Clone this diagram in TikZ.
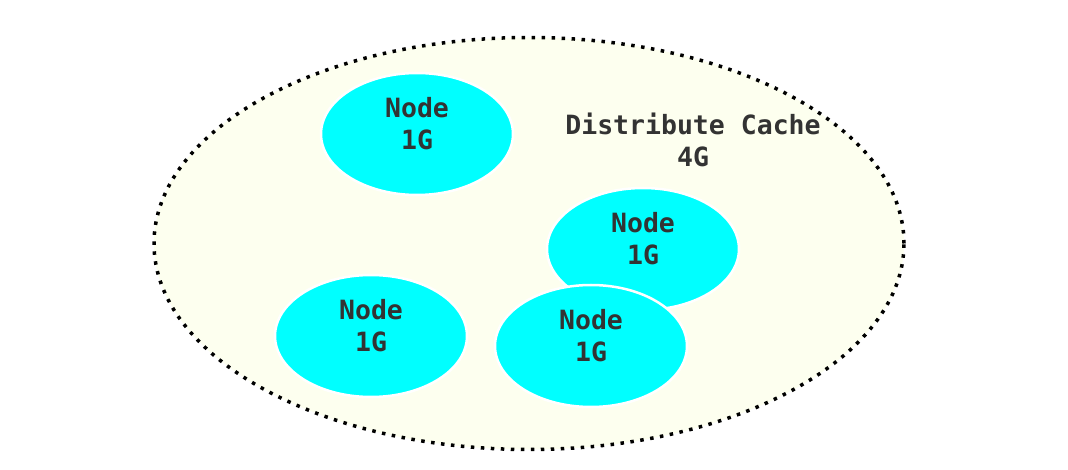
\documentclass[tikz,border=0pt]{standalone}
\usepackage{fontspec}
\setmonofont{DejaVu Sans Mono}
\usetikzlibrary{shapes.geometric}
\definecolor{ivory}{HTML}{FDFFEF}
\definecolor{txtgray}{HTML}{333333}
\definecolor{aqua}{RGB}{0,255,255}
\tikzset{
  cache/.style={ellipse, draw=black, fill=ivory, line width=3.5pt, dash pattern=on 3.5pt off 6.5pt, minimum width=750pt, minimum height=412pt, inner sep=0pt},
  cnode/.style={ellipse, draw=white, fill=aqua, line width=2.5pt, minimum width=192pt, minimum height=122pt, inner sep=0pt},
  ctext/.style={font=\ttfamily\bfseries\fontsize{26.5}{32}\selectfont, text=txtgray, align=center, inner sep=0pt},
}
\begin{document}
\begin{tikzpicture}[x=1pt,y=-1pt]
\useasboundingbox (0,0) rectangle (1068,470);
\fill[white] (0,0) rectangle (1068,470);
\node[cache] (cache) at (529,243.5) {};
\node[ctext] (cachelabel) at (693,140) {Distribute Cache\\4G};
\node[cnode] (n1) at (417,134) {};
\node[ctext] (t1) at ([yshift=10pt]n1.center) {Node\\1G};
\node[cnode] (n3) at (371,336) {};
\node[ctext] (t3) at ([yshift=10pt]n3.center) {Node\\1G};
\node[cnode] (n2) at (643,249) {};
\node[ctext] (t2) at ([yshift=10pt]n2.center) {Node\\1G};
\node[cnode] (n4) at (591,346) {};
\node[ctext] (t4) at ([yshift=10pt]n4.center) {Node\\1G};
\end{tikzpicture}
\end{document}
